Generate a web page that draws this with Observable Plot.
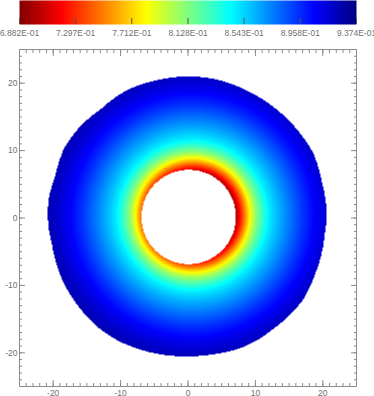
<!DOCTYPE html>
<html><head><meta charset="utf-8">
<script src="https://cdn.jsdelivr.net/npm/d3@7"></script>
<script src="https://cdn.jsdelivr.net/npm/@observablehq/plot@0.6"></script>
<style>
html,body{margin:0;padding:0;background:#fff;}
#chart{width:374px;height:396px;overflow:hidden;}
#chart svg{display:block;}
</style></head><body><div id="chart"></div>
<script>
// colour bar
const barTicks = [0.6882, 0.7297, 0.7712, 0.8128, 0.8543, 0.8958, 0.9374];
const barTickLabels = ["6.882E-01","7.297E-01","7.712E-01","8.128E-01","8.543E-01","8.958E-01","9.374E-01"];
const colorStops = [0, 0.125, 0.375, 0.625, 0.875, 1];
const colorStopColors = ["#800000","#ff0000","#ffff00","#00ffff","#0000ff","#000080"];
// axes
const axisTicks = [-20, -10, 0, 10, 20];
const axisTickLabels = ["-20", "-10", "0", "10", "20"];
const minorTicks = d3.range(-25, 26, 1);
// radial profile of the field (distance from field centre -> value)
const profileRadius = [5.5, 6.3, 6.8, 7.3, 7.8, 8.4, 9.2, 10.2, 11.3, 12.8, 14.5, 16.5, 18.3, 20.0, 21.5, 23.0];
const profileValue  = [0.689, 0.696, 0.713, 0.733, 0.753, 0.778, 0.805, 0.828, 0.848, 0.863, 0.878, 0.895, 0.908, 0.918, 0.925, 0.930];
const fieldCenter = [0.7, 0.4];
const holeCenter = [0.1, 0.15];
const holeRadius = 7.0;
// outer boundary of the domain (vertices)
const outlineX = [0.3, 4.5, 9.5, 14.2, 16.2, 18.6, 19.9, 20.6, 20.3, 18.9, 17.1, 12.6, 10.3, 7.8, 3.9, -0.2, -3.7, -7.1, -10.2, -13.0, -18.4, -20.2, -20.7, -20.7, -19.7, -18.4, -16.0, -13.0, -9.0, -4.4];
const outlineY = [21.0, 20.5, 18.5, 15.2, 13.1, 9.6, 5.2, 0.2, -2.3, -8.2, -12.1, -16.5, -18.1, -19.3, -20.2, -20.5, -20.3, -19.5, -18.3, -16.5, -9.7, -3.8, -1.3, 2.7, 6.2, 10.3, 13.6, 16.1, 19.0, 20.5];

// boundary as radius vs angle (arc-like edges between the vertices)
const polar = outlineX.map((x, i) => [Math.atan2(outlineY[i], x), Math.hypot(x, outlineY[i])])
  .sort((a, b) => a[0] - b[0]);
const first = polar[0], last = polar[polar.length - 1];
const polarExt = [[last[0] - 2 * Math.PI, last[1]], ...polar, [first[0] + 2 * Math.PI, first[1]]];
const boundary = d3.scaleLinear().domain(polarExt.map(d => d[0])).range(polarExt.map(d => d[1]));

const vmin = barTicks[0], vmax = barTicks[barTicks.length - 1];
const jet = d3.scaleLinear().domain(colorStops).range(colorStopColors).interpolate(d3.interpolateRgb).clamp(true);
const colorOpts = {type: "linear", domain: [vmin, vmax], interpolate: (t) => jet(t)};
const profile = d3.scaleLinear().domain(profileRadius).range(profileValue).clamp(true);
function field(x, y) {
  if (Math.hypot(x, y) > boundary(Math.atan2(y, x))) return NaN;
  if (Math.hypot(x - holeCenter[0], y - holeCenter[1]) < holeRadius) return NaN;
  return profile(Math.hypot(x - fieldCenter[0], y - fieldCenter[1]));
}
const lineColor = "#8c8c8c", textColor = "#707070";
const style = {fontFamily: "'Liberation Sans', Arial, sans-serif", fontSize: "8.5px", background: "transparent", overflow: "hidden"};

const bar = Plot.plot({
  width: 374, height: 45, marginLeft: 19, marginRight: 18, marginTop: 0, marginBottom: 21,
  style,
  x: {domain: [vmin, vmax]},
  y: {domain: [0, 1], axis: null},
  color: colorOpts,
  marks: [
    Plot.raster({x1: vmin, x2: vmax, y1: 0, y2: 1, fill: (x, y) => x, pixelSize: 1}),
    Plot.axisX(barTicks, {anchor: "bottom", tickSize: -6, stroke: "#555", fill: "none", label: null}),
    Plot.axisX(barTicks, {anchor: "bottom", tickSize: 0, tickPadding: 5, fill: textColor, label: null,
      tickFormat: d => barTickLabels[barTicks.indexOf(d)]})
  ]
});

const fmt = d => axisTickLabels[axisTicks.indexOf(d)];
const main = Plot.plot({
  width: 374, height: 351, marginLeft: 19, marginRight: 18, marginTop: 4, marginBottom: 10,
  style,
  x: {domain: [-25, 25]},
  y: {domain: [-25, 25]},
  color: colorOpts,
  marks: [
    Plot.raster({x1: -25, x2: 25, y1: -25, y2: 25, fill: field, pixelSize: 1}),
    Plot.frame({stroke: lineColor}),
    ...["bottom", "top"].flatMap(anchor => [
      Plot.axisX(minorTicks, {anchor, tickSize: -3, stroke: lineColor, fill: "none", label: null}),
      Plot.axisX(axisTicks, {anchor, tickSize: -6, stroke: lineColor, fill: "none", label: null})
    ]),
    ...["left", "right"].flatMap(anchor => [
      Plot.axisY(minorTicks, {anchor, tickSize: -3, stroke: lineColor, fill: "none", label: null}),
      Plot.axisY(axisTicks, {anchor, tickSize: -6, stroke: lineColor, fill: "none", label: null})
    ]),
    Plot.axisX(axisTicks, {anchor: "bottom", tickSize: 0, tickPadding: 3, fill: textColor, label: null, tickFormat: fmt}),
    Plot.axisY(axisTicks, {anchor: "left", tickSize: 0, tickPadding: 2, fill: textColor, label: null, tickFormat: fmt})
  ]
});

const chart = document.getElementById("chart");
chart.append(bar, main);
</script>
</body></html>
